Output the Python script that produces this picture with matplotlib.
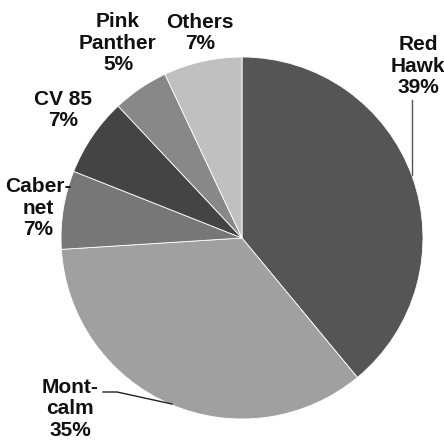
import matplotlib
matplotlib.use("Agg")
import matplotlib.pyplot as plt

labels = ["Red\nHawk", "Mont-\ncalm", "Caber-\nnet", "CV 85", "Pink\nPanther", "Others"]
values = [39, 35, 7, 7, 5, 7]
colors = ["#555555", "#a0a0a0", "#777777", "#444444", "#888888", "#c0c0c0"]

W, H = 444, 446
CX, CY, R = 242, 238, 181

def p2d(px, py):
    return ((px - CX) / R, (CY - py) / R)

fig = plt.figure(figsize=(W / 100, H / 100), dpi=100)
ax = fig.add_axes([0, 0, 1, 1])
ax.pie(values, colors=colors, startangle=90, counterclock=False,
       radius=1.0, center=(0, 0),
       wedgeprops=dict(edgecolor="white", linewidth=0.6))
ax.set_xlim(p2d(0, 0)[0], p2d(W, 0)[0])
ax.set_ylim(p2d(0, H)[1], p2d(0, 0)[1])
ax.set_aspect("auto")
ax.axis("off")

label_px = [(418, 66), (70, 409), (38, 208), (63, 110), (118, 43), (200, 33)]
for lab, v, (px, py) in zip(labels, values, label_px):
    x, y = p2d(px, py)
    ax.text(x, y, f"{lab}\n{v}%", ha="center", va="center",
            fontsize=15, fontweight="bold", family="Liberation Sans",
            color="#111111", linespacing=1.15)

# leader lines
x0, y0 = p2d(412, 100)
x1, y1 = p2d(412, 175)
ax.plot([x0, x1], [y0, y1], color="#555555", lw=1)
a = p2d(103, 392); b = p2d(117, 392); c = p2d(172, 404)
ax.plot([a[0], b[0], c[0]], [a[1], b[1], c[1]], color="#222222", lw=1)

fig.savefig("out.png", dpi=100, facecolor="white")
